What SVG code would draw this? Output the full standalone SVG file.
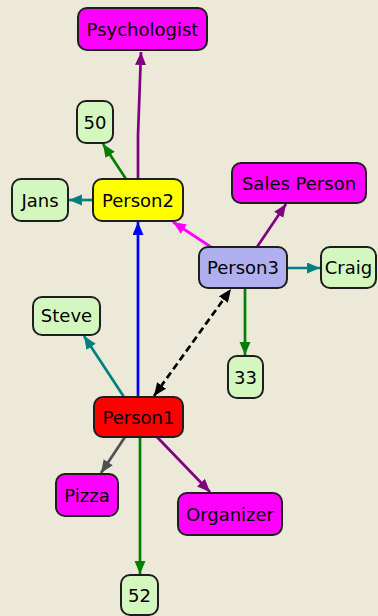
<svg xmlns="http://www.w3.org/2000/svg" width="378" height="616" viewBox="0 0 378 616">
<style>
.n rect{stroke:#1e1e1e;stroke-width:2}
.n text{font-family:"DejaVu Sans",sans-serif;font-size:18px;fill:#000;text-anchor:middle}
.mag rect{fill:#ff00ff}
.grn rect{fill:#d4f7c0}
.e{fill:none;stroke-width:2.7}
</style>
<defs>
<marker id="a-pur" markerUnits="userSpaceOnUse" markerWidth="14" markerHeight="12" refX="13" refY="5.5" orient="auto"><path d="M0,0 L13,5.5 L0,11 z" fill="#800080"/></marker>
<marker id="a-grn" markerUnits="userSpaceOnUse" markerWidth="14" markerHeight="12" refX="13" refY="5.5" orient="auto"><path d="M0,0 L13,5.5 L0,11 z" fill="#008000"/></marker>
<marker id="a-teal" markerUnits="userSpaceOnUse" markerWidth="14" markerHeight="12" refX="13" refY="5.5" orient="auto"><path d="M0,0 L13,5.5 L0,11 z" fill="#008080"/></marker>
<marker id="a-blue" markerUnits="userSpaceOnUse" markerWidth="14" markerHeight="12" refX="13" refY="5.5" orient="auto"><path d="M0,0 L13,5.5 L0,11 z" fill="#0000ff"/></marker>
<marker id="a-mag" markerUnits="userSpaceOnUse" markerWidth="14" markerHeight="12" refX="13" refY="5.5" orient="auto"><path d="M0,0 L13,5.5 L0,11 z" fill="#ff00ff"/></marker>
<marker id="a-gray" markerUnits="userSpaceOnUse" markerWidth="14" markerHeight="12" refX="13" refY="5.5" orient="auto"><path d="M0,0 L13,5.5 L0,11 z" fill="#505050"/></marker>
<marker id="a-blk" markerUnits="userSpaceOnUse" markerWidth="14" markerHeight="12" refX="13" refY="5.5" orient="auto-start-reverse"><path d="M0,0 L13,5.5 L0,11 z" fill="#000"/></marker>
</defs>
<rect width="378" height="616" fill="#ece9d8"/>
<g id="edges">
<path class="e" d="M138,179 L138,135 L141,52" stroke="#800080" marker-end="url(#a-pur)"/>
<line class="e" x1="126" y1="179" x2="103" y2="144" stroke="#008000" marker-end="url(#a-grn)"/>
<line class="e" x1="93" y1="200" x2="69" y2="200" stroke="#008080" marker-end="url(#a-teal)"/>
<line class="e" x1="138" y1="397" x2="138" y2="222" stroke="#0000ff" marker-end="url(#a-blue)"/>
<line class="e" x1="211" y1="247" x2="173" y2="222" stroke="#ff00ff" marker-end="url(#a-mag)"/>
<line class="e" x1="257" y1="247" x2="286" y2="204" stroke="#800080" marker-end="url(#a-pur)"/>
<line class="e" x1="287" y1="268" x2="320" y2="268" stroke="#008080" marker-end="url(#a-teal)"/>
<line class="e" x1="245" y1="288" x2="245" y2="355" stroke="#008000" marker-end="url(#a-grn)"/>
<line class="e" x1="154" y1="396" x2="231" y2="289" stroke="#000" stroke-width="3" stroke-dasharray="7,4" marker-start="url(#a-blk)" marker-end="url(#a-blk)"/>
<line class="e" x1="124" y1="397" x2="84" y2="336" stroke="#008080" marker-end="url(#a-teal)"/>
<line class="e" x1="125" y1="437" x2="101" y2="473" stroke="#505050" marker-end="url(#a-gray)"/>
<line class="e" x1="157" y1="437" x2="210" y2="492" stroke="#800080" marker-end="url(#a-pur)"/>
<line class="e" x1="140" y1="437" x2="140" y2="574" stroke="#008000" marker-end="url(#a-grn)"/>
</g>
<g id="psychologist" class="n mag"><rect x="78" y="8" width="129" height="42" rx="9"/><text x="142.5" y="36">Psychologist</text></g>
<g id="n50" class="n grn"><rect x="77" y="101" width="36" height="42" rx="9"/><text x="95" y="129">50</text></g>
<g id="person2" class="n"><rect x="93" y="179" width="90" height="42" rx="9" fill="#ffff00"/><text x="138" y="207">Person2</text></g>
<g id="jans" class="n grn"><rect x="12" y="179" width="56" height="42" rx="9"/><text x="40" y="207">Jans</text></g>
<g id="salesperson" class="n mag"><rect x="232" y="163" width="134" height="40" rx="9"/><text x="299" y="190">Sales Person</text></g>
<g id="person3" class="n"><rect x="199" y="247" width="88" height="41" rx="9" fill="#b0b0f0"/><text x="243" y="274">Person3</text></g>
<g id="craig" class="n grn"><rect x="321" y="247" width="55" height="41" rx="9"/><text x="348.5" y="274">Craig</text></g>
<g id="steve" class="n grn"><rect x="33" y="297" width="67" height="38" rx="9"/><text x="66.5" y="322">Steve</text></g>
<g id="n33" class="n grn"><rect x="228" y="356" width="35" height="42" rx="9"/><text x="245.5" y="384">33</text></g>
<g id="person1" class="n"><rect x="94" y="397" width="89" height="40" rx="9" fill="#ff0000"/><text x="138.5" y="424">Person1</text></g>
<g id="pizza" class="n mag"><rect x="56" y="474" width="62" height="42" rx="9"/><text x="87" y="502">Pizza</text></g>
<g id="organizer" class="n mag"><rect x="178" y="493" width="104" height="42" rx="9"/><text x="230" y="521">Organizer</text></g>
<g id="n52" class="n grn"><rect x="121" y="575" width="37" height="40" rx="9"/><text x="139.5" y="602">52</text></g>
</svg>
